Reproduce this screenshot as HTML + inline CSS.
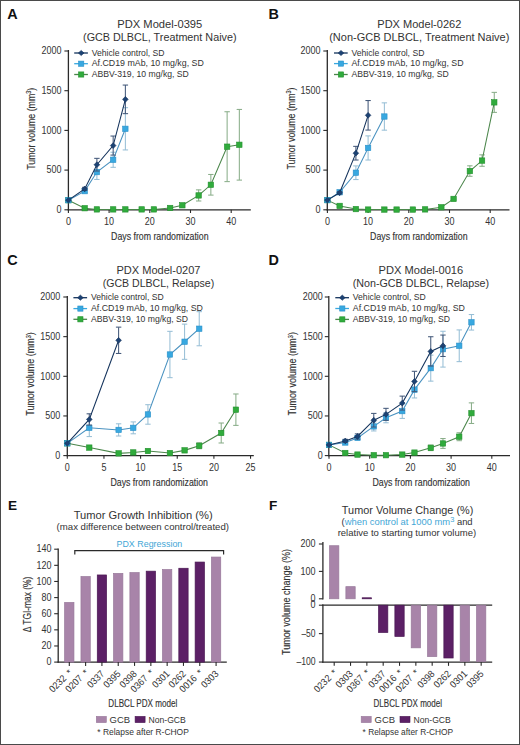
<!DOCTYPE html><html><head><meta charset="utf-8"><title>figure</title><style>html,body{margin:0;padding:0;background:#fff;overflow:hidden;}svg{display:block;}</style></head><body>
<svg width="520" height="745" viewBox="0 0 520 745" font-family='"Liberation Sans", sans-serif'>
<rect x="0" y="0" width="520" height="745" fill="#fff"/>
<line x1="68.40" y1="50.00" x2="68.40" y2="210.40" stroke="#2a2a2a" stroke-width="1.3"/>
<line x1="67.80" y1="209.80" x2="250.80" y2="209.80" stroke="#2a2a2a" stroke-width="1.3"/>
<line x1="64.40" y1="209.80" x2="68.40" y2="209.80" stroke="#2a2a2a" stroke-width="1.1"/>
<text x="61.40" y="213.00" font-size="10.0" text-anchor="end" fill="#333" textLength="5.00" lengthAdjust="spacingAndGlyphs">0</text>
<line x1="64.40" y1="170.10" x2="68.40" y2="170.10" stroke="#2a2a2a" stroke-width="1.1"/>
<text x="61.40" y="173.30" font-size="10.0" text-anchor="end" fill="#333" textLength="15.00" lengthAdjust="spacingAndGlyphs">500</text>
<line x1="64.40" y1="130.40" x2="68.40" y2="130.40" stroke="#2a2a2a" stroke-width="1.1"/>
<text x="61.40" y="133.60" font-size="10.0" text-anchor="end" fill="#333" textLength="20.00" lengthAdjust="spacingAndGlyphs">1000</text>
<line x1="64.40" y1="90.70" x2="68.40" y2="90.70" stroke="#2a2a2a" stroke-width="1.1"/>
<text x="61.40" y="93.90" font-size="10.0" text-anchor="end" fill="#333" textLength="20.00" lengthAdjust="spacingAndGlyphs">1500</text>
<line x1="64.40" y1="51.00" x2="68.40" y2="51.00" stroke="#2a2a2a" stroke-width="1.1"/>
<text x="61.40" y="54.20" font-size="10.0" text-anchor="end" fill="#333" textLength="20.00" lengthAdjust="spacingAndGlyphs">2000</text>
<line x1="68.40" y1="209.80" x2="68.40" y2="213.00" stroke="#2a2a2a" stroke-width="1.1"/>
<text x="68.40" y="224.70" font-size="10.0" text-anchor="middle" fill="#333" textLength="5.00" lengthAdjust="spacingAndGlyphs">0</text>
<line x1="109.10" y1="209.80" x2="109.10" y2="213.00" stroke="#2a2a2a" stroke-width="1.1"/>
<text x="109.10" y="224.70" font-size="10.0" text-anchor="middle" fill="#333" textLength="10.00" lengthAdjust="spacingAndGlyphs">10</text>
<line x1="149.80" y1="209.80" x2="149.80" y2="213.00" stroke="#2a2a2a" stroke-width="1.1"/>
<text x="149.80" y="224.70" font-size="10.0" text-anchor="middle" fill="#333" textLength="10.00" lengthAdjust="spacingAndGlyphs">20</text>
<line x1="190.50" y1="209.80" x2="190.50" y2="213.00" stroke="#2a2a2a" stroke-width="1.1"/>
<text x="190.50" y="224.70" font-size="10.0" text-anchor="middle" fill="#333" textLength="10.00" lengthAdjust="spacingAndGlyphs">30</text>
<line x1="231.20" y1="209.80" x2="231.20" y2="213.00" stroke="#2a2a2a" stroke-width="1.1"/>
<text x="231.20" y="224.70" font-size="10.0" text-anchor="middle" fill="#333" textLength="10.00" lengthAdjust="spacingAndGlyphs">40</text>
<text x="159.80" y="27.60" font-size="10.3" text-anchor="middle" fill="#333" textLength="85.00" lengthAdjust="spacingAndGlyphs">PDX Model-0395</text>
<text x="159.80" y="40.70" font-size="10.3" text-anchor="middle" fill="#333" textLength="153.50" lengthAdjust="spacingAndGlyphs">(GCB DLBCL, Treatment Naive)</text>
<text x="159.80" y="239.90" font-size="10.8" text-anchor="middle" fill="#333" textLength="97.50" lengthAdjust="spacingAndGlyphs" stroke="#333" stroke-width="0.15">Days from randomization</text>
<text transform="translate(34.80,128.70) rotate(-90)" font-size="10.4" text-anchor="middle" fill="#333" textLength="82" lengthAdjust="spacingAndGlyphs" stroke="#333" stroke-width="0.15">Tumor volume (mm<tspan font-size="6.5" dy="-3.5">3</tspan><tspan dy="3.5">)</tspan></text>
<text x="7.30" y="18.80" font-size="14.4" fill="#111" font-weight="bold">A</text>
<line x1="74.20" y1="53.00" x2="87.90" y2="53.00" stroke="#14335c" stroke-width="1.3"/>
<path d="M81.20 50.40L84.00 53.00L81.20 55.60L78.40 53.00Z" fill="#1c4273" stroke="#14335c" stroke-width="0.6"/>
<text x="91.70" y="55.60" font-size="8.4" fill="#333" textLength="72.90" lengthAdjust="spacingAndGlyphs">Vehicle control, SD</text>
<line x1="74.20" y1="63.70" x2="87.90" y2="63.70" stroke="#38a8e0" stroke-width="1.3"/>
<rect x="78.60" y="61.10" width="5.20" height="5.20" fill="#38a8e0" stroke="#2b90c8" stroke-width="0.6"/>
<text x="91.70" y="66.30" font-size="8.4" fill="#333" textLength="112.10" lengthAdjust="spacingAndGlyphs">Af.CD19 mAb, 10 mg/kg, SD</text>
<line x1="74.20" y1="74.50" x2="87.90" y2="74.50" stroke="#4b864b" stroke-width="1.3"/>
<rect x="78.60" y="71.90" width="5.20" height="5.20" fill="#30ab3c" stroke="#23902e" stroke-width="0.6"/>
<text x="91.70" y="77.10" font-size="8.4" fill="#333" textLength="97.20" lengthAdjust="spacingAndGlyphs">ABBV-319, 10 mg/kg, SD</text>
<line x1="170.15" y1="207.58" x2="170.15" y2="208.37" stroke="#8aae8a" stroke-width="1.05"/>
<line x1="167.45" y1="207.58" x2="172.85" y2="207.58" stroke="#8aae8a" stroke-width="1.05"/>
<line x1="167.45" y1="208.37" x2="172.85" y2="208.37" stroke="#8aae8a" stroke-width="1.05"/>
<line x1="182.36" y1="204.48" x2="182.36" y2="206.07" stroke="#8aae8a" stroke-width="1.05"/>
<line x1="179.66" y1="204.48" x2="185.06" y2="204.48" stroke="#8aae8a" stroke-width="1.05"/>
<line x1="179.66" y1="206.07" x2="185.06" y2="206.07" stroke="#8aae8a" stroke-width="1.05"/>
<line x1="198.64" y1="189.87" x2="198.64" y2="200.99" stroke="#8aae8a" stroke-width="1.05"/>
<line x1="195.94" y1="189.87" x2="201.34" y2="189.87" stroke="#8aae8a" stroke-width="1.05"/>
<line x1="195.94" y1="200.99" x2="201.34" y2="200.99" stroke="#8aae8a" stroke-width="1.05"/>
<line x1="210.85" y1="174.47" x2="210.85" y2="195.11" stroke="#8aae8a" stroke-width="1.05"/>
<line x1="208.15" y1="174.47" x2="213.55" y2="174.47" stroke="#8aae8a" stroke-width="1.05"/>
<line x1="208.15" y1="195.11" x2="213.55" y2="195.11" stroke="#8aae8a" stroke-width="1.05"/>
<line x1="227.13" y1="111.74" x2="227.13" y2="181.61" stroke="#8aae8a" stroke-width="1.05"/>
<line x1="224.43" y1="111.74" x2="229.83" y2="111.74" stroke="#8aae8a" stroke-width="1.05"/>
<line x1="224.43" y1="181.61" x2="229.83" y2="181.61" stroke="#8aae8a" stroke-width="1.05"/>
<line x1="239.34" y1="109.44" x2="239.34" y2="180.10" stroke="#8aae8a" stroke-width="1.05"/>
<line x1="236.64" y1="109.44" x2="242.04" y2="109.44" stroke="#8aae8a" stroke-width="1.05"/>
<line x1="236.64" y1="180.10" x2="242.04" y2="180.10" stroke="#8aae8a" stroke-width="1.05"/>
<polyline points="68.40,200.19 84.68,208.21 96.89,209.40 113.17,209.40 125.38,209.40 141.66,209.40 153.87,209.40 170.15,207.97 182.36,205.27 198.64,195.43 210.85,184.79 227.13,146.68 239.34,144.77" fill="none" stroke="#4b864b" stroke-width="1.05"/>
<rect x="65.70" y="197.49" width="5.40" height="5.40" fill="#30ab3c" stroke="#23902e" stroke-width="0.6"/>
<rect x="81.98" y="205.51" width="5.40" height="5.40" fill="#30ab3c" stroke="#23902e" stroke-width="0.6"/>
<rect x="94.19" y="206.70" width="5.40" height="5.40" fill="#30ab3c" stroke="#23902e" stroke-width="0.6"/>
<rect x="110.47" y="206.70" width="5.40" height="5.40" fill="#30ab3c" stroke="#23902e" stroke-width="0.6"/>
<rect x="122.68" y="206.70" width="5.40" height="5.40" fill="#30ab3c" stroke="#23902e" stroke-width="0.6"/>
<rect x="138.96" y="206.70" width="5.40" height="5.40" fill="#30ab3c" stroke="#23902e" stroke-width="0.6"/>
<rect x="151.17" y="206.70" width="5.40" height="5.40" fill="#30ab3c" stroke="#23902e" stroke-width="0.6"/>
<rect x="167.45" y="205.27" width="5.40" height="5.40" fill="#30ab3c" stroke="#23902e" stroke-width="0.6"/>
<rect x="179.66" y="202.57" width="5.40" height="5.40" fill="#30ab3c" stroke="#23902e" stroke-width="0.6"/>
<rect x="195.94" y="192.73" width="5.40" height="5.40" fill="#30ab3c" stroke="#23902e" stroke-width="0.6"/>
<rect x="208.15" y="182.09" width="5.40" height="5.40" fill="#30ab3c" stroke="#23902e" stroke-width="0.6"/>
<rect x="224.43" y="143.98" width="5.40" height="5.40" fill="#30ab3c" stroke="#23902e" stroke-width="0.6"/>
<rect x="236.64" y="142.07" width="5.40" height="5.40" fill="#30ab3c" stroke="#23902e" stroke-width="0.6"/>
<line x1="84.68" y1="189.55" x2="84.68" y2="192.73" stroke="#98bfd6" stroke-width="1.05"/>
<line x1="81.98" y1="189.55" x2="87.38" y2="189.55" stroke="#98bfd6" stroke-width="1.05"/>
<line x1="81.98" y1="192.73" x2="87.38" y2="192.73" stroke="#98bfd6" stroke-width="1.05"/>
<line x1="96.89" y1="164.70" x2="96.89" y2="179.47" stroke="#98bfd6" stroke-width="1.05"/>
<line x1="94.19" y1="164.70" x2="99.59" y2="164.70" stroke="#98bfd6" stroke-width="1.05"/>
<line x1="94.19" y1="179.47" x2="99.59" y2="179.47" stroke="#98bfd6" stroke-width="1.05"/>
<line x1="113.17" y1="152.24" x2="113.17" y2="167.32" stroke="#98bfd6" stroke-width="1.05"/>
<line x1="110.47" y1="152.24" x2="115.87" y2="152.24" stroke="#98bfd6" stroke-width="1.05"/>
<line x1="110.47" y1="167.32" x2="115.87" y2="167.32" stroke="#98bfd6" stroke-width="1.05"/>
<line x1="125.38" y1="107.69" x2="125.38" y2="149.93" stroke="#98bfd6" stroke-width="1.05"/>
<line x1="122.68" y1="107.69" x2="128.08" y2="107.69" stroke="#98bfd6" stroke-width="1.05"/>
<line x1="122.68" y1="149.93" x2="128.08" y2="149.93" stroke="#98bfd6" stroke-width="1.05"/>
<polyline points="68.40,200.19 84.68,191.14 96.89,172.09 113.17,159.78 125.38,128.81" fill="none" stroke="#4a92c0" stroke-width="1.05"/>
<rect x="65.70" y="197.49" width="5.40" height="5.40" fill="#38a8e0" stroke="#2b90c8" stroke-width="0.6"/>
<rect x="81.98" y="188.44" width="5.40" height="5.40" fill="#38a8e0" stroke="#2b90c8" stroke-width="0.6"/>
<rect x="94.19" y="169.39" width="5.40" height="5.40" fill="#38a8e0" stroke="#2b90c8" stroke-width="0.6"/>
<rect x="110.47" y="157.08" width="5.40" height="5.40" fill="#38a8e0" stroke="#2b90c8" stroke-width="0.6"/>
<rect x="122.68" y="126.11" width="5.40" height="5.40" fill="#38a8e0" stroke="#2b90c8" stroke-width="0.6"/>
<line x1="84.68" y1="187.33" x2="84.68" y2="190.51" stroke="#44597a" stroke-width="1.05"/>
<line x1="81.98" y1="187.33" x2="87.38" y2="187.33" stroke="#44597a" stroke-width="1.05"/>
<line x1="81.98" y1="190.51" x2="87.38" y2="190.51" stroke="#44597a" stroke-width="1.05"/>
<line x1="96.89" y1="158.35" x2="96.89" y2="171.05" stroke="#44597a" stroke-width="1.05"/>
<line x1="94.19" y1="158.35" x2="99.59" y2="158.35" stroke="#44597a" stroke-width="1.05"/>
<line x1="94.19" y1="171.05" x2="99.59" y2="171.05" stroke="#44597a" stroke-width="1.05"/>
<line x1="113.17" y1="136.04" x2="113.17" y2="155.09" stroke="#44597a" stroke-width="1.05"/>
<line x1="110.47" y1="136.04" x2="115.87" y2="136.04" stroke="#44597a" stroke-width="1.05"/>
<line x1="110.47" y1="155.09" x2="115.87" y2="155.09" stroke="#44597a" stroke-width="1.05"/>
<line x1="125.38" y1="85.06" x2="125.38" y2="113.65" stroke="#44597a" stroke-width="1.05"/>
<line x1="122.68" y1="85.06" x2="128.08" y2="85.06" stroke="#44597a" stroke-width="1.05"/>
<line x1="122.68" y1="113.65" x2="128.08" y2="113.65" stroke="#44597a" stroke-width="1.05"/>
<polyline points="68.40,200.19 84.68,188.92 96.89,164.70 113.17,145.57 125.38,99.35" fill="none" stroke="#14335c" stroke-width="1.05"/>
<path d="M68.40 197.29L71.20 200.19L68.40 203.09L65.60 200.19Z" fill="#1c4273" stroke="#14335c" stroke-width="0.6"/>
<path d="M84.68 186.02L87.48 188.92L84.68 191.82L81.88 188.92Z" fill="#1c4273" stroke="#14335c" stroke-width="0.6"/>
<path d="M96.89 161.80L99.69 164.70L96.89 167.60L94.09 164.70Z" fill="#1c4273" stroke="#14335c" stroke-width="0.6"/>
<path d="M113.17 142.67L115.97 145.57L113.17 148.47L110.37 145.57Z" fill="#1c4273" stroke="#14335c" stroke-width="0.6"/>
<path d="M125.38 96.45L128.18 99.35L125.38 102.25L122.58 99.35Z" fill="#1c4273" stroke="#14335c" stroke-width="0.6"/>
<line x1="327.30" y1="50.00" x2="327.30" y2="210.40" stroke="#2a2a2a" stroke-width="1.3"/>
<line x1="326.70" y1="209.80" x2="509.50" y2="209.80" stroke="#2a2a2a" stroke-width="1.3"/>
<line x1="323.30" y1="209.80" x2="327.30" y2="209.80" stroke="#2a2a2a" stroke-width="1.1"/>
<text x="320.40" y="213.00" font-size="10.0" text-anchor="end" fill="#333" textLength="5.00" lengthAdjust="spacingAndGlyphs">0</text>
<line x1="323.30" y1="170.10" x2="327.30" y2="170.10" stroke="#2a2a2a" stroke-width="1.1"/>
<text x="320.40" y="173.30" font-size="10.0" text-anchor="end" fill="#333" textLength="15.00" lengthAdjust="spacingAndGlyphs">500</text>
<line x1="323.30" y1="130.40" x2="327.30" y2="130.40" stroke="#2a2a2a" stroke-width="1.1"/>
<text x="320.40" y="133.60" font-size="10.0" text-anchor="end" fill="#333" textLength="20.00" lengthAdjust="spacingAndGlyphs">1000</text>
<line x1="323.30" y1="90.70" x2="327.30" y2="90.70" stroke="#2a2a2a" stroke-width="1.1"/>
<text x="320.40" y="93.90" font-size="10.0" text-anchor="end" fill="#333" textLength="20.00" lengthAdjust="spacingAndGlyphs">1500</text>
<line x1="323.30" y1="51.00" x2="327.30" y2="51.00" stroke="#2a2a2a" stroke-width="1.1"/>
<text x="320.40" y="54.20" font-size="10.0" text-anchor="end" fill="#333" textLength="20.00" lengthAdjust="spacingAndGlyphs">2000</text>
<line x1="327.40" y1="209.80" x2="327.40" y2="213.00" stroke="#2a2a2a" stroke-width="1.1"/>
<text x="327.40" y="224.70" font-size="10.0" text-anchor="middle" fill="#333" textLength="5.00" lengthAdjust="spacingAndGlyphs">0</text>
<line x1="368.10" y1="209.80" x2="368.10" y2="213.00" stroke="#2a2a2a" stroke-width="1.1"/>
<text x="368.10" y="224.70" font-size="10.0" text-anchor="middle" fill="#333" textLength="10.00" lengthAdjust="spacingAndGlyphs">10</text>
<line x1="408.80" y1="209.80" x2="408.80" y2="213.00" stroke="#2a2a2a" stroke-width="1.1"/>
<text x="408.80" y="224.70" font-size="10.0" text-anchor="middle" fill="#333" textLength="10.00" lengthAdjust="spacingAndGlyphs">20</text>
<line x1="449.50" y1="209.80" x2="449.50" y2="213.00" stroke="#2a2a2a" stroke-width="1.1"/>
<text x="449.50" y="224.70" font-size="10.0" text-anchor="middle" fill="#333" textLength="10.00" lengthAdjust="spacingAndGlyphs">30</text>
<line x1="490.20" y1="209.80" x2="490.20" y2="213.00" stroke="#2a2a2a" stroke-width="1.1"/>
<text x="490.20" y="224.70" font-size="10.0" text-anchor="middle" fill="#333" textLength="10.00" lengthAdjust="spacingAndGlyphs">40</text>
<text x="419.30" y="27.60" font-size="10.3" text-anchor="middle" fill="#333" textLength="84.00" lengthAdjust="spacingAndGlyphs">PDX Model-0262</text>
<text x="419.30" y="40.70" font-size="10.3" text-anchor="middle" fill="#333" textLength="180.20" lengthAdjust="spacingAndGlyphs">(Non-GCB DLBCL, Treatment Naive)</text>
<text x="418.80" y="239.90" font-size="10.8" text-anchor="middle" fill="#333" textLength="97.50" lengthAdjust="spacingAndGlyphs" stroke="#333" stroke-width="0.15">Days from randomization</text>
<text transform="translate(294.60,128.50) rotate(-90)" font-size="10.4" text-anchor="middle" fill="#333" textLength="82" lengthAdjust="spacingAndGlyphs" stroke="#333" stroke-width="0.15">Tumor volume (mm<tspan font-size="6.5" dy="-3.5">3</tspan><tspan dy="3.5">)</tspan></text>
<text x="268.50" y="18.80" font-size="14.4" fill="#111" font-weight="bold">B</text>
<line x1="334.00" y1="53.00" x2="347.70" y2="53.00" stroke="#14335c" stroke-width="1.3"/>
<path d="M341.00 50.40L343.80 53.00L341.00 55.60L338.20 53.00Z" fill="#1c4273" stroke="#14335c" stroke-width="0.6"/>
<text x="351.50" y="55.60" font-size="8.4" fill="#333" textLength="72.90" lengthAdjust="spacingAndGlyphs">Vehicle control, SD</text>
<line x1="334.00" y1="63.60" x2="347.70" y2="63.60" stroke="#38a8e0" stroke-width="1.3"/>
<rect x="338.40" y="61.00" width="5.20" height="5.20" fill="#38a8e0" stroke="#2b90c8" stroke-width="0.6"/>
<text x="351.50" y="66.20" font-size="8.4" fill="#333" textLength="112.10" lengthAdjust="spacingAndGlyphs">Af.CD19 mAb, 10 mg/kg, SD</text>
<line x1="334.00" y1="74.50" x2="347.70" y2="74.50" stroke="#4b864b" stroke-width="1.3"/>
<rect x="338.40" y="71.90" width="5.20" height="5.20" fill="#30ab3c" stroke="#23902e" stroke-width="0.6"/>
<text x="351.50" y="77.10" font-size="8.4" fill="#333" textLength="97.20" lengthAdjust="spacingAndGlyphs">ABBV-319, 10 mg/kg, SD</text>
<line x1="441.36" y1="206.86" x2="441.36" y2="207.66" stroke="#8aae8a" stroke-width="1.05"/>
<line x1="438.66" y1="206.86" x2="444.06" y2="206.86" stroke="#8aae8a" stroke-width="1.05"/>
<line x1="438.66" y1="207.66" x2="444.06" y2="207.66" stroke="#8aae8a" stroke-width="1.05"/>
<line x1="453.57" y1="198.13" x2="453.57" y2="199.72" stroke="#8aae8a" stroke-width="1.05"/>
<line x1="450.87" y1="198.13" x2="456.27" y2="198.13" stroke="#8aae8a" stroke-width="1.05"/>
<line x1="450.87" y1="199.72" x2="456.27" y2="199.72" stroke="#8aae8a" stroke-width="1.05"/>
<line x1="469.85" y1="165.81" x2="469.85" y2="176.29" stroke="#8aae8a" stroke-width="1.05"/>
<line x1="467.15" y1="165.81" x2="472.55" y2="165.81" stroke="#8aae8a" stroke-width="1.05"/>
<line x1="467.15" y1="176.29" x2="472.55" y2="176.29" stroke="#8aae8a" stroke-width="1.05"/>
<line x1="482.06" y1="154.86" x2="482.06" y2="166.29" stroke="#8aae8a" stroke-width="1.05"/>
<line x1="479.36" y1="154.86" x2="484.76" y2="154.86" stroke="#8aae8a" stroke-width="1.05"/>
<line x1="479.36" y1="166.29" x2="484.76" y2="166.29" stroke="#8aae8a" stroke-width="1.05"/>
<line x1="494.27" y1="92.37" x2="494.27" y2="112.38" stroke="#8aae8a" stroke-width="1.05"/>
<line x1="491.57" y1="92.37" x2="496.97" y2="92.37" stroke="#8aae8a" stroke-width="1.05"/>
<line x1="491.57" y1="112.38" x2="496.97" y2="112.38" stroke="#8aae8a" stroke-width="1.05"/>
<polyline points="327.40,200.11 339.61,205.91 355.89,209.09 368.10,209.56 384.38,209.56 396.59,209.56 412.87,209.56 425.08,209.40 441.36,207.26 453.57,198.92 469.85,171.05 482.06,160.57 494.27,102.37" fill="none" stroke="#4b864b" stroke-width="1.05"/>
<rect x="324.70" y="197.41" width="5.40" height="5.40" fill="#30ab3c" stroke="#23902e" stroke-width="0.6"/>
<rect x="336.91" y="203.21" width="5.40" height="5.40" fill="#30ab3c" stroke="#23902e" stroke-width="0.6"/>
<rect x="353.19" y="206.39" width="5.40" height="5.40" fill="#30ab3c" stroke="#23902e" stroke-width="0.6"/>
<rect x="365.40" y="206.86" width="5.40" height="5.40" fill="#30ab3c" stroke="#23902e" stroke-width="0.6"/>
<rect x="381.68" y="206.86" width="5.40" height="5.40" fill="#30ab3c" stroke="#23902e" stroke-width="0.6"/>
<rect x="393.89" y="206.86" width="5.40" height="5.40" fill="#30ab3c" stroke="#23902e" stroke-width="0.6"/>
<rect x="410.17" y="206.86" width="5.40" height="5.40" fill="#30ab3c" stroke="#23902e" stroke-width="0.6"/>
<rect x="422.38" y="206.70" width="5.40" height="5.40" fill="#30ab3c" stroke="#23902e" stroke-width="0.6"/>
<rect x="438.66" y="204.56" width="5.40" height="5.40" fill="#30ab3c" stroke="#23902e" stroke-width="0.6"/>
<rect x="450.87" y="196.22" width="5.40" height="5.40" fill="#30ab3c" stroke="#23902e" stroke-width="0.6"/>
<rect x="467.15" y="168.35" width="5.40" height="5.40" fill="#30ab3c" stroke="#23902e" stroke-width="0.6"/>
<rect x="479.36" y="157.87" width="5.40" height="5.40" fill="#30ab3c" stroke="#23902e" stroke-width="0.6"/>
<rect x="491.57" y="99.67" width="5.40" height="5.40" fill="#30ab3c" stroke="#23902e" stroke-width="0.6"/>
<line x1="339.61" y1="191.06" x2="339.61" y2="193.44" stroke="#98bfd6" stroke-width="1.05"/>
<line x1="336.91" y1="191.06" x2="342.31" y2="191.06" stroke="#98bfd6" stroke-width="1.05"/>
<line x1="336.91" y1="193.44" x2="342.31" y2="193.44" stroke="#98bfd6" stroke-width="1.05"/>
<line x1="355.89" y1="165.89" x2="355.89" y2="179.55" stroke="#98bfd6" stroke-width="1.05"/>
<line x1="353.19" y1="165.89" x2="358.59" y2="165.89" stroke="#98bfd6" stroke-width="1.05"/>
<line x1="353.19" y1="179.55" x2="358.59" y2="179.55" stroke="#98bfd6" stroke-width="1.05"/>
<line x1="368.10" y1="135.88" x2="368.10" y2="160.02" stroke="#98bfd6" stroke-width="1.05"/>
<line x1="365.40" y1="135.88" x2="370.80" y2="135.88" stroke="#98bfd6" stroke-width="1.05"/>
<line x1="365.40" y1="160.02" x2="370.80" y2="160.02" stroke="#98bfd6" stroke-width="1.05"/>
<line x1="384.38" y1="102.85" x2="384.38" y2="130.16" stroke="#98bfd6" stroke-width="1.05"/>
<line x1="381.68" y1="102.85" x2="387.08" y2="102.85" stroke="#98bfd6" stroke-width="1.05"/>
<line x1="381.68" y1="130.16" x2="387.08" y2="130.16" stroke="#98bfd6" stroke-width="1.05"/>
<polyline points="327.40,200.11 339.61,192.25 355.89,172.72 368.10,147.95 384.38,116.51" fill="none" stroke="#4a92c0" stroke-width="1.05"/>
<rect x="324.70" y="197.41" width="5.40" height="5.40" fill="#38a8e0" stroke="#2b90c8" stroke-width="0.6"/>
<rect x="336.91" y="189.55" width="5.40" height="5.40" fill="#38a8e0" stroke="#2b90c8" stroke-width="0.6"/>
<rect x="353.19" y="170.02" width="5.40" height="5.40" fill="#38a8e0" stroke="#2b90c8" stroke-width="0.6"/>
<rect x="365.40" y="145.25" width="5.40" height="5.40" fill="#38a8e0" stroke="#2b90c8" stroke-width="0.6"/>
<rect x="381.68" y="113.81" width="5.40" height="5.40" fill="#38a8e0" stroke="#2b90c8" stroke-width="0.6"/>
<line x1="339.61" y1="191.62" x2="339.61" y2="194.00" stroke="#44597a" stroke-width="1.05"/>
<line x1="336.91" y1="191.62" x2="342.31" y2="191.62" stroke="#44597a" stroke-width="1.05"/>
<line x1="336.91" y1="194.00" x2="342.31" y2="194.00" stroke="#44597a" stroke-width="1.05"/>
<line x1="355.89" y1="146.36" x2="355.89" y2="160.02" stroke="#44597a" stroke-width="1.05"/>
<line x1="353.19" y1="146.36" x2="358.59" y2="146.36" stroke="#44597a" stroke-width="1.05"/>
<line x1="353.19" y1="160.02" x2="358.59" y2="160.02" stroke="#44597a" stroke-width="1.05"/>
<line x1="368.10" y1="100.55" x2="368.10" y2="130.08" stroke="#44597a" stroke-width="1.05"/>
<line x1="365.40" y1="100.55" x2="370.80" y2="100.55" stroke="#44597a" stroke-width="1.05"/>
<line x1="365.40" y1="130.08" x2="370.80" y2="130.08" stroke="#44597a" stroke-width="1.05"/>
<polyline points="327.40,200.11 339.61,192.81 355.89,153.19 368.10,115.31" fill="none" stroke="#14335c" stroke-width="1.05"/>
<path d="M327.40 197.21L330.20 200.11L327.40 203.01L324.60 200.11Z" fill="#1c4273" stroke="#14335c" stroke-width="0.6"/>
<path d="M339.61 189.91L342.41 192.81L339.61 195.71L336.81 192.81Z" fill="#1c4273" stroke="#14335c" stroke-width="0.6"/>
<path d="M355.89 150.29L358.69 153.19L355.89 156.09L353.09 153.19Z" fill="#1c4273" stroke="#14335c" stroke-width="0.6"/>
<path d="M368.10 112.41L370.90 115.31L368.10 118.21L365.30 115.31Z" fill="#1c4273" stroke="#14335c" stroke-width="0.6"/>
<line x1="67.30" y1="296.00" x2="67.30" y2="456.20" stroke="#2a2a2a" stroke-width="1.3"/>
<line x1="66.70" y1="455.60" x2="253.80" y2="455.60" stroke="#2a2a2a" stroke-width="1.3"/>
<line x1="63.30" y1="455.60" x2="67.30" y2="455.60" stroke="#2a2a2a" stroke-width="1.1"/>
<text x="60.20" y="458.80" font-size="10.0" text-anchor="end" fill="#333" textLength="5.00" lengthAdjust="spacingAndGlyphs">0</text>
<line x1="63.30" y1="415.95" x2="67.30" y2="415.95" stroke="#2a2a2a" stroke-width="1.1"/>
<text x="60.20" y="419.15" font-size="10.0" text-anchor="end" fill="#333" textLength="15.00" lengthAdjust="spacingAndGlyphs">500</text>
<line x1="63.30" y1="376.30" x2="67.30" y2="376.30" stroke="#2a2a2a" stroke-width="1.1"/>
<text x="60.20" y="379.50" font-size="10.0" text-anchor="end" fill="#333" textLength="20.00" lengthAdjust="spacingAndGlyphs">1000</text>
<line x1="63.30" y1="336.65" x2="67.30" y2="336.65" stroke="#2a2a2a" stroke-width="1.1"/>
<text x="60.20" y="339.85" font-size="10.0" text-anchor="end" fill="#333" textLength="20.00" lengthAdjust="spacingAndGlyphs">1500</text>
<line x1="63.30" y1="297.00" x2="67.30" y2="297.00" stroke="#2a2a2a" stroke-width="1.1"/>
<text x="60.20" y="300.20" font-size="10.0" text-anchor="end" fill="#333" textLength="20.00" lengthAdjust="spacingAndGlyphs">2000</text>
<line x1="67.30" y1="455.60" x2="67.30" y2="458.80" stroke="#2a2a2a" stroke-width="1.1"/>
<text x="67.30" y="470.50" font-size="10.0" text-anchor="middle" fill="#333" textLength="5.00" lengthAdjust="spacingAndGlyphs">0</text>
<line x1="103.95" y1="455.60" x2="103.95" y2="458.80" stroke="#2a2a2a" stroke-width="1.1"/>
<text x="103.95" y="470.50" font-size="10.0" text-anchor="middle" fill="#333" textLength="5.00" lengthAdjust="spacingAndGlyphs">5</text>
<line x1="140.60" y1="455.60" x2="140.60" y2="458.80" stroke="#2a2a2a" stroke-width="1.1"/>
<text x="140.60" y="470.50" font-size="10.0" text-anchor="middle" fill="#333" textLength="10.00" lengthAdjust="spacingAndGlyphs">10</text>
<line x1="177.25" y1="455.60" x2="177.25" y2="458.80" stroke="#2a2a2a" stroke-width="1.1"/>
<text x="177.25" y="470.50" font-size="10.0" text-anchor="middle" fill="#333" textLength="10.00" lengthAdjust="spacingAndGlyphs">15</text>
<line x1="213.90" y1="455.60" x2="213.90" y2="458.80" stroke="#2a2a2a" stroke-width="1.1"/>
<text x="213.90" y="470.50" font-size="10.0" text-anchor="middle" fill="#333" textLength="10.00" lengthAdjust="spacingAndGlyphs">20</text>
<line x1="250.55" y1="455.60" x2="250.55" y2="458.80" stroke="#2a2a2a" stroke-width="1.1"/>
<text x="250.55" y="470.50" font-size="10.0" text-anchor="middle" fill="#333" textLength="10.00" lengthAdjust="spacingAndGlyphs">25</text>
<text x="158.50" y="273.80" font-size="10.3" text-anchor="middle" fill="#333" textLength="84.00" lengthAdjust="spacingAndGlyphs">PDX Model-0207</text>
<text x="158.50" y="286.70" font-size="10.3" text-anchor="middle" fill="#333" textLength="111.50" lengthAdjust="spacingAndGlyphs">(GCB DLBCL, Relapse)</text>
<text x="159.20" y="485.60" font-size="10.8" text-anchor="middle" fill="#333" textLength="97.50" lengthAdjust="spacingAndGlyphs" stroke="#333" stroke-width="0.15">Days from randomization</text>
<text transform="translate(34.30,374.00) rotate(-90)" font-size="10.4" text-anchor="middle" fill="#333" textLength="83.5" lengthAdjust="spacingAndGlyphs" stroke="#333" stroke-width="0.15">Tumor volume (mm<tspan font-size="6.5" dy="-3.5">3</tspan><tspan dy="3.5">)</tspan></text>
<text x="7.30" y="265.00" font-size="14.4" fill="#111" font-weight="bold">C</text>
<line x1="73.40" y1="297.70" x2="87.10" y2="297.70" stroke="#14335c" stroke-width="1.3"/>
<path d="M80.40 295.10L83.20 297.70L80.40 300.30L77.60 297.70Z" fill="#1c4273" stroke="#14335c" stroke-width="0.6"/>
<text x="90.90" y="300.30" font-size="8.4" fill="#333" textLength="72.90" lengthAdjust="spacingAndGlyphs">Vehicle control, SD</text>
<line x1="73.40" y1="308.60" x2="87.10" y2="308.60" stroke="#38a8e0" stroke-width="1.3"/>
<rect x="77.80" y="306.00" width="5.20" height="5.20" fill="#38a8e0" stroke="#2b90c8" stroke-width="0.6"/>
<text x="90.90" y="311.20" font-size="8.4" fill="#333" textLength="112.10" lengthAdjust="spacingAndGlyphs">Af.CD19 mAb, 10 mg/kg, SD</text>
<line x1="73.40" y1="319.30" x2="87.10" y2="319.30" stroke="#4b864b" stroke-width="1.3"/>
<rect x="77.80" y="316.70" width="5.20" height="5.20" fill="#30ab3c" stroke="#23902e" stroke-width="0.6"/>
<text x="90.90" y="321.90" font-size="8.4" fill="#333" textLength="97.20" lengthAdjust="spacingAndGlyphs">ABBV-319, 10 mg/kg, SD</text>
<line x1="199.24" y1="442.83" x2="199.24" y2="448.70" stroke="#8aae8a" stroke-width="1.05"/>
<line x1="196.54" y1="442.83" x2="201.94" y2="442.83" stroke="#8aae8a" stroke-width="1.05"/>
<line x1="196.54" y1="448.70" x2="201.94" y2="448.70" stroke="#8aae8a" stroke-width="1.05"/>
<line x1="221.23" y1="423.01" x2="221.23" y2="442.99" stroke="#8aae8a" stroke-width="1.05"/>
<line x1="218.53" y1="423.01" x2="223.93" y2="423.01" stroke="#8aae8a" stroke-width="1.05"/>
<line x1="218.53" y1="442.99" x2="223.93" y2="442.99" stroke="#8aae8a" stroke-width="1.05"/>
<line x1="235.89" y1="393.98" x2="235.89" y2="425.39" stroke="#8aae8a" stroke-width="1.05"/>
<line x1="233.19" y1="393.98" x2="238.59" y2="393.98" stroke="#8aae8a" stroke-width="1.05"/>
<line x1="233.19" y1="425.39" x2="238.59" y2="425.39" stroke="#8aae8a" stroke-width="1.05"/>
<polyline points="67.30,443.31 89.29,447.59 118.61,453.38 133.27,452.43 147.93,451.00 169.92,453.06 184.58,450.37 199.24,445.77 221.23,433.00 235.89,409.69" fill="none" stroke="#4b864b" stroke-width="1.05"/>
<rect x="64.60" y="440.61" width="5.40" height="5.40" fill="#30ab3c" stroke="#23902e" stroke-width="0.6"/>
<rect x="86.59" y="444.89" width="5.40" height="5.40" fill="#30ab3c" stroke="#23902e" stroke-width="0.6"/>
<rect x="115.91" y="450.68" width="5.40" height="5.40" fill="#30ab3c" stroke="#23902e" stroke-width="0.6"/>
<rect x="130.57" y="449.73" width="5.40" height="5.40" fill="#30ab3c" stroke="#23902e" stroke-width="0.6"/>
<rect x="145.23" y="448.30" width="5.40" height="5.40" fill="#30ab3c" stroke="#23902e" stroke-width="0.6"/>
<rect x="167.22" y="450.36" width="5.40" height="5.40" fill="#30ab3c" stroke="#23902e" stroke-width="0.6"/>
<rect x="181.88" y="447.67" width="5.40" height="5.40" fill="#30ab3c" stroke="#23902e" stroke-width="0.6"/>
<rect x="196.54" y="443.07" width="5.40" height="5.40" fill="#30ab3c" stroke="#23902e" stroke-width="0.6"/>
<rect x="218.53" y="430.30" width="5.40" height="5.40" fill="#30ab3c" stroke="#23902e" stroke-width="0.6"/>
<rect x="233.19" y="406.99" width="5.40" height="5.40" fill="#30ab3c" stroke="#23902e" stroke-width="0.6"/>
<line x1="89.29" y1="419.12" x2="89.29" y2="436.57" stroke="#98bfd6" stroke-width="1.05"/>
<line x1="86.59" y1="419.12" x2="91.99" y2="419.12" stroke="#98bfd6" stroke-width="1.05"/>
<line x1="86.59" y1="436.57" x2="91.99" y2="436.57" stroke="#98bfd6" stroke-width="1.05"/>
<line x1="118.61" y1="423.80" x2="118.61" y2="436.01" stroke="#98bfd6" stroke-width="1.05"/>
<line x1="115.91" y1="423.80" x2="121.31" y2="423.80" stroke="#98bfd6" stroke-width="1.05"/>
<line x1="115.91" y1="436.01" x2="121.31" y2="436.01" stroke="#98bfd6" stroke-width="1.05"/>
<line x1="133.27" y1="421.90" x2="133.27" y2="433.79" stroke="#98bfd6" stroke-width="1.05"/>
<line x1="130.57" y1="421.90" x2="135.97" y2="421.90" stroke="#98bfd6" stroke-width="1.05"/>
<line x1="130.57" y1="433.79" x2="135.97" y2="433.79" stroke="#98bfd6" stroke-width="1.05"/>
<line x1="147.93" y1="404.69" x2="147.93" y2="424.20" stroke="#98bfd6" stroke-width="1.05"/>
<line x1="145.23" y1="404.69" x2="150.63" y2="404.69" stroke="#98bfd6" stroke-width="1.05"/>
<line x1="145.23" y1="424.20" x2="150.63" y2="424.20" stroke="#98bfd6" stroke-width="1.05"/>
<line x1="169.92" y1="331.34" x2="169.92" y2="377.65" stroke="#98bfd6" stroke-width="1.05"/>
<line x1="167.22" y1="331.34" x2="172.62" y2="331.34" stroke="#98bfd6" stroke-width="1.05"/>
<line x1="167.22" y1="377.65" x2="172.62" y2="377.65" stroke="#98bfd6" stroke-width="1.05"/>
<line x1="184.58" y1="324.12" x2="184.58" y2="359.33" stroke="#98bfd6" stroke-width="1.05"/>
<line x1="181.88" y1="324.12" x2="187.28" y2="324.12" stroke="#98bfd6" stroke-width="1.05"/>
<line x1="181.88" y1="359.33" x2="187.28" y2="359.33" stroke="#98bfd6" stroke-width="1.05"/>
<line x1="199.24" y1="311.67" x2="199.24" y2="345.77" stroke="#98bfd6" stroke-width="1.05"/>
<line x1="196.54" y1="311.67" x2="201.94" y2="311.67" stroke="#98bfd6" stroke-width="1.05"/>
<line x1="196.54" y1="345.77" x2="201.94" y2="345.77" stroke="#98bfd6" stroke-width="1.05"/>
<polyline points="67.30,443.31 89.29,427.85 118.61,429.91 133.27,427.85 147.93,414.44 169.92,354.49 184.58,341.73 199.24,328.72" fill="none" stroke="#4a92c0" stroke-width="1.05"/>
<rect x="64.60" y="440.61" width="5.40" height="5.40" fill="#38a8e0" stroke="#2b90c8" stroke-width="0.6"/>
<rect x="86.59" y="425.15" width="5.40" height="5.40" fill="#38a8e0" stroke="#2b90c8" stroke-width="0.6"/>
<rect x="115.91" y="427.21" width="5.40" height="5.40" fill="#38a8e0" stroke="#2b90c8" stroke-width="0.6"/>
<rect x="130.57" y="425.15" width="5.40" height="5.40" fill="#38a8e0" stroke="#2b90c8" stroke-width="0.6"/>
<rect x="145.23" y="411.74" width="5.40" height="5.40" fill="#38a8e0" stroke="#2b90c8" stroke-width="0.6"/>
<rect x="167.22" y="351.79" width="5.40" height="5.40" fill="#38a8e0" stroke="#2b90c8" stroke-width="0.6"/>
<rect x="181.88" y="339.03" width="5.40" height="5.40" fill="#38a8e0" stroke="#2b90c8" stroke-width="0.6"/>
<rect x="196.54" y="326.02" width="5.40" height="5.40" fill="#38a8e0" stroke="#2b90c8" stroke-width="0.6"/>
<line x1="89.29" y1="413.81" x2="89.29" y2="425.07" stroke="#44597a" stroke-width="1.05"/>
<line x1="86.59" y1="413.81" x2="91.99" y2="413.81" stroke="#44597a" stroke-width="1.05"/>
<line x1="86.59" y1="425.07" x2="91.99" y2="425.07" stroke="#44597a" stroke-width="1.05"/>
<line x1="118.61" y1="327.13" x2="118.61" y2="353.46" stroke="#44597a" stroke-width="1.05"/>
<line x1="115.91" y1="327.13" x2="121.31" y2="327.13" stroke="#44597a" stroke-width="1.05"/>
<line x1="115.91" y1="353.46" x2="121.31" y2="353.46" stroke="#44597a" stroke-width="1.05"/>
<polyline points="67.30,443.31 89.29,419.44 118.61,340.30" fill="none" stroke="#14335c" stroke-width="1.05"/>
<path d="M67.30 440.41L70.10 443.31L67.30 446.21L64.50 443.31Z" fill="#1c4273" stroke="#14335c" stroke-width="0.6"/>
<path d="M89.29 416.54L92.09 419.44L89.29 422.34L86.49 419.44Z" fill="#1c4273" stroke="#14335c" stroke-width="0.6"/>
<path d="M118.61 337.40L121.41 340.30L118.61 343.20L115.81 340.30Z" fill="#1c4273" stroke="#14335c" stroke-width="0.6"/>
<line x1="328.80" y1="296.00" x2="328.80" y2="456.20" stroke="#2a2a2a" stroke-width="1.3"/>
<line x1="328.20" y1="455.60" x2="510.00" y2="455.60" stroke="#2a2a2a" stroke-width="1.3"/>
<line x1="324.80" y1="455.60" x2="328.80" y2="455.60" stroke="#2a2a2a" stroke-width="1.1"/>
<text x="322.70" y="458.80" font-size="10.0" text-anchor="end" fill="#333" textLength="5.00" lengthAdjust="spacingAndGlyphs">0</text>
<line x1="324.80" y1="415.95" x2="328.80" y2="415.95" stroke="#2a2a2a" stroke-width="1.1"/>
<text x="322.70" y="419.15" font-size="10.0" text-anchor="end" fill="#333" textLength="15.00" lengthAdjust="spacingAndGlyphs">500</text>
<line x1="324.80" y1="376.30" x2="328.80" y2="376.30" stroke="#2a2a2a" stroke-width="1.1"/>
<text x="322.70" y="379.50" font-size="10.0" text-anchor="end" fill="#333" textLength="20.00" lengthAdjust="spacingAndGlyphs">1000</text>
<line x1="324.80" y1="336.65" x2="328.80" y2="336.65" stroke="#2a2a2a" stroke-width="1.1"/>
<text x="322.70" y="339.85" font-size="10.0" text-anchor="end" fill="#333" textLength="20.00" lengthAdjust="spacingAndGlyphs">1500</text>
<line x1="324.80" y1="297.00" x2="328.80" y2="297.00" stroke="#2a2a2a" stroke-width="1.1"/>
<text x="322.70" y="300.20" font-size="10.0" text-anchor="end" fill="#333" textLength="20.00" lengthAdjust="spacingAndGlyphs">2000</text>
<line x1="329.00" y1="455.60" x2="329.00" y2="458.80" stroke="#2a2a2a" stroke-width="1.1"/>
<text x="329.00" y="470.50" font-size="10.0" text-anchor="middle" fill="#333" textLength="5.00" lengthAdjust="spacingAndGlyphs">0</text>
<line x1="369.70" y1="455.60" x2="369.70" y2="458.80" stroke="#2a2a2a" stroke-width="1.1"/>
<text x="369.70" y="470.50" font-size="10.0" text-anchor="middle" fill="#333" textLength="10.00" lengthAdjust="spacingAndGlyphs">10</text>
<line x1="410.40" y1="455.60" x2="410.40" y2="458.80" stroke="#2a2a2a" stroke-width="1.1"/>
<text x="410.40" y="470.50" font-size="10.0" text-anchor="middle" fill="#333" textLength="10.00" lengthAdjust="spacingAndGlyphs">20</text>
<line x1="451.10" y1="455.60" x2="451.10" y2="458.80" stroke="#2a2a2a" stroke-width="1.1"/>
<text x="451.10" y="470.50" font-size="10.0" text-anchor="middle" fill="#333" textLength="10.00" lengthAdjust="spacingAndGlyphs">30</text>
<line x1="491.80" y1="455.60" x2="491.80" y2="458.80" stroke="#2a2a2a" stroke-width="1.1"/>
<text x="491.80" y="470.50" font-size="10.0" text-anchor="middle" fill="#333" textLength="10.00" lengthAdjust="spacingAndGlyphs">40</text>
<text x="420.90" y="273.80" font-size="10.3" text-anchor="middle" fill="#333" textLength="84.60" lengthAdjust="spacingAndGlyphs">PDX Model-0016</text>
<text x="420.90" y="286.70" font-size="10.3" text-anchor="middle" fill="#333" textLength="136.30" lengthAdjust="spacingAndGlyphs">(Non-GCB DLBCL, Relapse)</text>
<text x="421.20" y="485.60" font-size="10.8" text-anchor="middle" fill="#333" textLength="97.50" lengthAdjust="spacingAndGlyphs" stroke="#333" stroke-width="0.15">Days from randomization</text>
<text transform="translate(296.30,373.80) rotate(-90)" font-size="10.4" text-anchor="middle" fill="#333" textLength="83.5" lengthAdjust="spacingAndGlyphs" stroke="#333" stroke-width="0.15">Tumor volume (mm<tspan font-size="6.5" dy="-3.5">3</tspan><tspan dy="3.5">)</tspan></text>
<text x="268.50" y="265.00" font-size="14.4" fill="#111" font-weight="bold">D</text>
<line x1="335.30" y1="297.70" x2="349.00" y2="297.70" stroke="#14335c" stroke-width="1.3"/>
<path d="M342.30 295.10L345.10 297.70L342.30 300.30L339.50 297.70Z" fill="#1c4273" stroke="#14335c" stroke-width="0.6"/>
<text x="352.80" y="300.30" font-size="8.4" fill="#333" textLength="72.90" lengthAdjust="spacingAndGlyphs">Vehicle control, SD</text>
<line x1="335.30" y1="308.50" x2="349.00" y2="308.50" stroke="#38a8e0" stroke-width="1.3"/>
<rect x="339.70" y="305.90" width="5.20" height="5.20" fill="#38a8e0" stroke="#2b90c8" stroke-width="0.6"/>
<text x="352.80" y="311.10" font-size="8.4" fill="#333" textLength="112.10" lengthAdjust="spacingAndGlyphs">Af.CD19 mAb, 10 mg/kg, SD</text>
<line x1="335.30" y1="319.40" x2="349.00" y2="319.40" stroke="#4b864b" stroke-width="1.3"/>
<rect x="339.70" y="316.80" width="5.20" height="5.20" fill="#30ab3c" stroke="#23902e" stroke-width="0.6"/>
<text x="352.80" y="322.00" font-size="8.4" fill="#333" textLength="97.20" lengthAdjust="spacingAndGlyphs">ABBV-319, 10 mg/kg, SD</text>
<line x1="430.75" y1="445.05" x2="430.75" y2="450.60" stroke="#8aae8a" stroke-width="1.05"/>
<line x1="428.05" y1="445.05" x2="433.45" y2="445.05" stroke="#8aae8a" stroke-width="1.05"/>
<line x1="428.05" y1="450.60" x2="433.45" y2="450.60" stroke="#8aae8a" stroke-width="1.05"/>
<line x1="442.96" y1="438.55" x2="442.96" y2="448.38" stroke="#8aae8a" stroke-width="1.05"/>
<line x1="440.26" y1="438.55" x2="445.66" y2="438.55" stroke="#8aae8a" stroke-width="1.05"/>
<line x1="440.26" y1="448.38" x2="445.66" y2="448.38" stroke="#8aae8a" stroke-width="1.05"/>
<line x1="459.24" y1="432.76" x2="459.24" y2="440.69" stroke="#8aae8a" stroke-width="1.05"/>
<line x1="456.54" y1="432.76" x2="461.94" y2="432.76" stroke="#8aae8a" stroke-width="1.05"/>
<line x1="456.54" y1="440.69" x2="461.94" y2="440.69" stroke="#8aae8a" stroke-width="1.05"/>
<line x1="471.45" y1="402.87" x2="471.45" y2="423.48" stroke="#8aae8a" stroke-width="1.05"/>
<line x1="468.75" y1="402.87" x2="474.15" y2="402.87" stroke="#8aae8a" stroke-width="1.05"/>
<line x1="468.75" y1="423.48" x2="474.15" y2="423.48" stroke="#8aae8a" stroke-width="1.05"/>
<polyline points="329.00,444.89 345.28,452.98 357.49,454.57 373.77,455.20 385.98,455.20 402.26,454.57 414.47,452.59 430.75,447.83 442.96,443.47 459.24,436.73 471.45,413.17" fill="none" stroke="#4b864b" stroke-width="1.05"/>
<rect x="326.30" y="442.19" width="5.40" height="5.40" fill="#30ab3c" stroke="#23902e" stroke-width="0.6"/>
<rect x="342.58" y="450.28" width="5.40" height="5.40" fill="#30ab3c" stroke="#23902e" stroke-width="0.6"/>
<rect x="354.79" y="451.87" width="5.40" height="5.40" fill="#30ab3c" stroke="#23902e" stroke-width="0.6"/>
<rect x="371.07" y="452.50" width="5.40" height="5.40" fill="#30ab3c" stroke="#23902e" stroke-width="0.6"/>
<rect x="383.28" y="452.50" width="5.40" height="5.40" fill="#30ab3c" stroke="#23902e" stroke-width="0.6"/>
<rect x="399.56" y="451.87" width="5.40" height="5.40" fill="#30ab3c" stroke="#23902e" stroke-width="0.6"/>
<rect x="411.77" y="449.89" width="5.40" height="5.40" fill="#30ab3c" stroke="#23902e" stroke-width="0.6"/>
<rect x="428.05" y="445.13" width="5.40" height="5.40" fill="#30ab3c" stroke="#23902e" stroke-width="0.6"/>
<rect x="440.26" y="440.77" width="5.40" height="5.40" fill="#30ab3c" stroke="#23902e" stroke-width="0.6"/>
<rect x="456.54" y="434.03" width="5.40" height="5.40" fill="#30ab3c" stroke="#23902e" stroke-width="0.6"/>
<rect x="468.75" y="410.47" width="5.40" height="5.40" fill="#30ab3c" stroke="#23902e" stroke-width="0.6"/>
<line x1="345.28" y1="441.33" x2="345.28" y2="443.71" stroke="#98bfd6" stroke-width="1.05"/>
<line x1="342.58" y1="441.33" x2="347.98" y2="441.33" stroke="#98bfd6" stroke-width="1.05"/>
<line x1="342.58" y1="443.71" x2="347.98" y2="443.71" stroke="#98bfd6" stroke-width="1.05"/>
<line x1="357.49" y1="436.33" x2="357.49" y2="439.50" stroke="#98bfd6" stroke-width="1.05"/>
<line x1="354.79" y1="436.33" x2="360.19" y2="436.33" stroke="#98bfd6" stroke-width="1.05"/>
<line x1="354.79" y1="439.50" x2="360.19" y2="439.50" stroke="#98bfd6" stroke-width="1.05"/>
<line x1="373.77" y1="421.90" x2="373.77" y2="430.94" stroke="#98bfd6" stroke-width="1.05"/>
<line x1="371.07" y1="421.90" x2="376.47" y2="421.90" stroke="#98bfd6" stroke-width="1.05"/>
<line x1="371.07" y1="430.94" x2="376.47" y2="430.94" stroke="#98bfd6" stroke-width="1.05"/>
<line x1="385.98" y1="412.78" x2="385.98" y2="422.77" stroke="#98bfd6" stroke-width="1.05"/>
<line x1="383.28" y1="412.78" x2="388.68" y2="412.78" stroke="#98bfd6" stroke-width="1.05"/>
<line x1="383.28" y1="422.77" x2="388.68" y2="422.77" stroke="#98bfd6" stroke-width="1.05"/>
<line x1="402.26" y1="403.82" x2="402.26" y2="418.41" stroke="#98bfd6" stroke-width="1.05"/>
<line x1="399.56" y1="403.82" x2="404.96" y2="403.82" stroke="#98bfd6" stroke-width="1.05"/>
<line x1="399.56" y1="418.41" x2="404.96" y2="418.41" stroke="#98bfd6" stroke-width="1.05"/>
<line x1="414.47" y1="381.30" x2="414.47" y2="397.95" stroke="#98bfd6" stroke-width="1.05"/>
<line x1="411.77" y1="381.30" x2="417.17" y2="381.30" stroke="#98bfd6" stroke-width="1.05"/>
<line x1="411.77" y1="397.95" x2="417.17" y2="397.95" stroke="#98bfd6" stroke-width="1.05"/>
<line x1="430.75" y1="355.13" x2="430.75" y2="381.14" stroke="#98bfd6" stroke-width="1.05"/>
<line x1="428.05" y1="355.13" x2="433.45" y2="355.13" stroke="#98bfd6" stroke-width="1.05"/>
<line x1="428.05" y1="381.14" x2="433.45" y2="381.14" stroke="#98bfd6" stroke-width="1.05"/>
<line x1="442.96" y1="331.26" x2="442.96" y2="367.10" stroke="#98bfd6" stroke-width="1.05"/>
<line x1="440.26" y1="331.26" x2="445.66" y2="331.26" stroke="#98bfd6" stroke-width="1.05"/>
<line x1="440.26" y1="367.10" x2="445.66" y2="367.10" stroke="#98bfd6" stroke-width="1.05"/>
<line x1="459.24" y1="329.91" x2="459.24" y2="361.63" stroke="#98bfd6" stroke-width="1.05"/>
<line x1="456.54" y1="329.91" x2="461.94" y2="329.91" stroke="#98bfd6" stroke-width="1.05"/>
<line x1="456.54" y1="361.63" x2="461.94" y2="361.63" stroke="#98bfd6" stroke-width="1.05"/>
<line x1="471.45" y1="314.53" x2="471.45" y2="330.07" stroke="#98bfd6" stroke-width="1.05"/>
<line x1="468.75" y1="314.53" x2="474.15" y2="314.53" stroke="#98bfd6" stroke-width="1.05"/>
<line x1="468.75" y1="330.07" x2="474.15" y2="330.07" stroke="#98bfd6" stroke-width="1.05"/>
<polyline points="329.00,444.89 345.28,442.52 357.49,437.92 373.77,426.42 385.98,417.77 402.26,411.11 414.47,389.62 430.75,368.13 442.96,349.18 459.24,345.77 471.45,322.30" fill="none" stroke="#4a92c0" stroke-width="1.05"/>
<rect x="326.30" y="442.19" width="5.40" height="5.40" fill="#38a8e0" stroke="#2b90c8" stroke-width="0.6"/>
<rect x="342.58" y="439.82" width="5.40" height="5.40" fill="#38a8e0" stroke="#2b90c8" stroke-width="0.6"/>
<rect x="354.79" y="435.22" width="5.40" height="5.40" fill="#38a8e0" stroke="#2b90c8" stroke-width="0.6"/>
<rect x="371.07" y="423.72" width="5.40" height="5.40" fill="#38a8e0" stroke="#2b90c8" stroke-width="0.6"/>
<rect x="383.28" y="415.07" width="5.40" height="5.40" fill="#38a8e0" stroke="#2b90c8" stroke-width="0.6"/>
<rect x="399.56" y="408.41" width="5.40" height="5.40" fill="#38a8e0" stroke="#2b90c8" stroke-width="0.6"/>
<rect x="411.77" y="386.92" width="5.40" height="5.40" fill="#38a8e0" stroke="#2b90c8" stroke-width="0.6"/>
<rect x="428.05" y="365.43" width="5.40" height="5.40" fill="#38a8e0" stroke="#2b90c8" stroke-width="0.6"/>
<rect x="440.26" y="346.48" width="5.40" height="5.40" fill="#38a8e0" stroke="#2b90c8" stroke-width="0.6"/>
<rect x="456.54" y="343.07" width="5.40" height="5.40" fill="#38a8e0" stroke="#2b90c8" stroke-width="0.6"/>
<rect x="468.75" y="319.60" width="5.40" height="5.40" fill="#38a8e0" stroke="#2b90c8" stroke-width="0.6"/>
<line x1="345.28" y1="439.34" x2="345.28" y2="442.52" stroke="#44597a" stroke-width="1.05"/>
<line x1="342.58" y1="439.34" x2="347.98" y2="439.34" stroke="#44597a" stroke-width="1.05"/>
<line x1="342.58" y1="442.52" x2="347.98" y2="442.52" stroke="#44597a" stroke-width="1.05"/>
<line x1="357.49" y1="433.87" x2="357.49" y2="439.11" stroke="#44597a" stroke-width="1.05"/>
<line x1="354.79" y1="433.87" x2="360.19" y2="433.87" stroke="#44597a" stroke-width="1.05"/>
<line x1="354.79" y1="439.11" x2="360.19" y2="439.11" stroke="#44597a" stroke-width="1.05"/>
<line x1="373.77" y1="413.41" x2="373.77" y2="427.05" stroke="#44597a" stroke-width="1.05"/>
<line x1="371.07" y1="413.41" x2="376.47" y2="413.41" stroke="#44597a" stroke-width="1.05"/>
<line x1="371.07" y1="427.05" x2="376.47" y2="427.05" stroke="#44597a" stroke-width="1.05"/>
<line x1="385.98" y1="408.34" x2="385.98" y2="420.39" stroke="#44597a" stroke-width="1.05"/>
<line x1="383.28" y1="408.34" x2="388.68" y2="408.34" stroke="#44597a" stroke-width="1.05"/>
<line x1="383.28" y1="420.39" x2="388.68" y2="420.39" stroke="#44597a" stroke-width="1.05"/>
<line x1="402.26" y1="396.12" x2="402.26" y2="410.08" stroke="#44597a" stroke-width="1.05"/>
<line x1="399.56" y1="396.12" x2="404.96" y2="396.12" stroke="#44597a" stroke-width="1.05"/>
<line x1="399.56" y1="410.08" x2="404.96" y2="410.08" stroke="#44597a" stroke-width="1.05"/>
<line x1="414.47" y1="371.30" x2="414.47" y2="391.60" stroke="#44597a" stroke-width="1.05"/>
<line x1="411.77" y1="371.30" x2="417.17" y2="371.30" stroke="#44597a" stroke-width="1.05"/>
<line x1="411.77" y1="391.60" x2="417.17" y2="391.60" stroke="#44597a" stroke-width="1.05"/>
<line x1="430.75" y1="336.73" x2="430.75" y2="366.07" stroke="#44597a" stroke-width="1.05"/>
<line x1="428.05" y1="336.73" x2="433.45" y2="336.73" stroke="#44597a" stroke-width="1.05"/>
<line x1="428.05" y1="366.07" x2="433.45" y2="366.07" stroke="#44597a" stroke-width="1.05"/>
<line x1="442.96" y1="335.06" x2="442.96" y2="356.48" stroke="#44597a" stroke-width="1.05"/>
<line x1="440.26" y1="335.06" x2="445.66" y2="335.06" stroke="#44597a" stroke-width="1.05"/>
<line x1="440.26" y1="356.48" x2="445.66" y2="356.48" stroke="#44597a" stroke-width="1.05"/>
<polyline points="329.00,444.89 345.28,440.93 357.49,436.49 373.77,420.23 385.98,414.36 402.26,403.10 414.47,381.45 430.75,351.40 442.96,345.77" fill="none" stroke="#14335c" stroke-width="1.05"/>
<path d="M329.00 441.99L331.80 444.89L329.00 447.79L326.20 444.89Z" fill="#1c4273" stroke="#14335c" stroke-width="0.6"/>
<path d="M345.28 438.03L348.08 440.93L345.28 443.83L342.48 440.93Z" fill="#1c4273" stroke="#14335c" stroke-width="0.6"/>
<path d="M357.49 433.59L360.29 436.49L357.49 439.39L354.69 436.49Z" fill="#1c4273" stroke="#14335c" stroke-width="0.6"/>
<path d="M373.77 417.33L376.57 420.23L373.77 423.13L370.97 420.23Z" fill="#1c4273" stroke="#14335c" stroke-width="0.6"/>
<path d="M385.98 411.46L388.78 414.36L385.98 417.26L383.18 414.36Z" fill="#1c4273" stroke="#14335c" stroke-width="0.6"/>
<path d="M402.26 400.20L405.06 403.10L402.26 406.00L399.46 403.10Z" fill="#1c4273" stroke="#14335c" stroke-width="0.6"/>
<path d="M414.47 378.55L417.27 381.45L414.47 384.35L411.67 381.45Z" fill="#1c4273" stroke="#14335c" stroke-width="0.6"/>
<path d="M430.75 348.50L433.55 351.40L430.75 354.30L427.95 351.40Z" fill="#1c4273" stroke="#14335c" stroke-width="0.6"/>
<path d="M442.96 342.87L445.76 345.77L442.96 348.67L440.16 345.77Z" fill="#1c4273" stroke="#14335c" stroke-width="0.6"/>
<text x="7.90" y="510.20" font-size="13.6" fill="#111" font-weight="bold">E</text>
<text x="143.20" y="519.00" font-size="11.4" text-anchor="middle" fill="#333" textLength="139.00" lengthAdjust="spacingAndGlyphs">Tumor Growth Inhibition (%)</text>
<text x="142.80" y="530.00" font-size="9.6" text-anchor="middle" fill="#333" textLength="172.40" lengthAdjust="spacingAndGlyphs">(max difference between control/treated)</text>
<text x="149.40" y="546.50" font-size="9.8" text-anchor="middle" fill="#3fa6d6" textLength="65.80" lengthAdjust="spacingAndGlyphs">PDX Regression</text>
<path d="M74.8 554.6 V550.6 H223.6 V554.6" fill="none" stroke="#2a2a2a" stroke-width="1.2"/>
<line x1="58.20" y1="548.60" x2="58.20" y2="662.70" stroke="#2a2a2a" stroke-width="1.3"/>
<line x1="57.60" y1="662.10" x2="226.80" y2="662.10" stroke="#2a2a2a" stroke-width="1.3"/>
<line x1="54.20" y1="662.10" x2="58.20" y2="662.10" stroke="#2a2a2a" stroke-width="1.1"/>
<text x="51.40" y="665.30" font-size="10.0" text-anchor="end" fill="#333" textLength="5.00" lengthAdjust="spacingAndGlyphs">0</text>
<line x1="54.20" y1="645.97" x2="58.20" y2="645.97" stroke="#2a2a2a" stroke-width="1.1"/>
<text x="51.40" y="649.17" font-size="10.0" text-anchor="end" fill="#333" textLength="10.00" lengthAdjust="spacingAndGlyphs">20</text>
<line x1="54.20" y1="629.84" x2="58.20" y2="629.84" stroke="#2a2a2a" stroke-width="1.1"/>
<text x="51.40" y="633.04" font-size="10.0" text-anchor="end" fill="#333" textLength="10.00" lengthAdjust="spacingAndGlyphs">40</text>
<line x1="54.20" y1="613.72" x2="58.20" y2="613.72" stroke="#2a2a2a" stroke-width="1.1"/>
<text x="51.40" y="616.92" font-size="10.0" text-anchor="end" fill="#333" textLength="10.00" lengthAdjust="spacingAndGlyphs">60</text>
<line x1="54.20" y1="597.59" x2="58.20" y2="597.59" stroke="#2a2a2a" stroke-width="1.1"/>
<text x="51.40" y="600.79" font-size="10.0" text-anchor="end" fill="#333" textLength="10.00" lengthAdjust="spacingAndGlyphs">80</text>
<line x1="54.20" y1="581.46" x2="58.20" y2="581.46" stroke="#2a2a2a" stroke-width="1.1"/>
<text x="51.40" y="584.66" font-size="10.0" text-anchor="end" fill="#333" textLength="15.00" lengthAdjust="spacingAndGlyphs">100</text>
<line x1="54.20" y1="565.33" x2="58.20" y2="565.33" stroke="#2a2a2a" stroke-width="1.1"/>
<text x="51.40" y="568.53" font-size="10.0" text-anchor="end" fill="#333" textLength="15.00" lengthAdjust="spacingAndGlyphs">120</text>
<line x1="54.20" y1="549.20" x2="58.20" y2="549.20" stroke="#2a2a2a" stroke-width="1.1"/>
<text x="51.40" y="552.40" font-size="10.0" text-anchor="end" fill="#333" textLength="15.00" lengthAdjust="spacingAndGlyphs">140</text>
<rect x="64.65" y="602.45" width="9.30" height="59.65" fill="#a884a9" stroke="#97789a" stroke-width="0.7"/>
<line x1="69.30" y1="662.10" x2="69.30" y2="665.90" stroke="#2a2a2a" stroke-width="1.1"/>
<rect x="80.96" y="576.57" width="9.30" height="85.53" fill="#a884a9" stroke="#97789a" stroke-width="0.7"/>
<line x1="85.61" y1="662.10" x2="85.61" y2="665.90" stroke="#2a2a2a" stroke-width="1.1"/>
<rect x="97.27" y="574.96" width="9.30" height="87.14" fill="#5c2066" stroke="#4a1853" stroke-width="0.7"/>
<line x1="101.92" y1="662.10" x2="101.92" y2="665.90" stroke="#2a2a2a" stroke-width="1.1"/>
<rect x="113.58" y="573.42" width="9.30" height="88.68" fill="#a884a9" stroke="#97789a" stroke-width="0.7"/>
<line x1="118.23" y1="662.10" x2="118.23" y2="665.90" stroke="#2a2a2a" stroke-width="1.1"/>
<rect x="129.89" y="572.62" width="9.30" height="89.48" fill="#a884a9" stroke="#97789a" stroke-width="0.7"/>
<line x1="134.54" y1="662.10" x2="134.54" y2="665.90" stroke="#2a2a2a" stroke-width="1.1"/>
<rect x="146.20" y="571.17" width="9.30" height="90.93" fill="#5c2066" stroke="#4a1853" stroke-width="0.7"/>
<line x1="150.85" y1="662.10" x2="150.85" y2="665.90" stroke="#2a2a2a" stroke-width="1.1"/>
<rect x="162.51" y="569.55" width="9.30" height="92.55" fill="#a884a9" stroke="#97789a" stroke-width="0.7"/>
<line x1="167.16" y1="662.10" x2="167.16" y2="665.90" stroke="#2a2a2a" stroke-width="1.1"/>
<rect x="178.82" y="568.26" width="9.30" height="93.84" fill="#5c2066" stroke="#4a1853" stroke-width="0.7"/>
<line x1="183.47" y1="662.10" x2="183.47" y2="665.90" stroke="#2a2a2a" stroke-width="1.1"/>
<rect x="195.13" y="562.05" width="9.30" height="100.05" fill="#5c2066" stroke="#4a1853" stroke-width="0.7"/>
<line x1="199.78" y1="662.10" x2="199.78" y2="665.90" stroke="#2a2a2a" stroke-width="1.1"/>
<rect x="211.44" y="557.05" width="9.30" height="105.05" fill="#a884a9" stroke="#97789a" stroke-width="0.7"/>
<line x1="216.09" y1="662.10" x2="216.09" y2="665.90" stroke="#2a2a2a" stroke-width="1.1"/>
<text transform="translate(72.80,673.10) rotate(-45)" font-size="9.8" text-anchor="end" fill="#333"><tspan textLength="20" lengthAdjust="spacingAndGlyphs">0232</tspan><tspan dx="4.5" font-size="9.4">*</tspan></text>
<text transform="translate(89.11,673.10) rotate(-45)" font-size="9.8" text-anchor="end" fill="#333"><tspan textLength="20" lengthAdjust="spacingAndGlyphs">0207</tspan><tspan dx="4.5" font-size="9.4">*</tspan></text>
<text transform="translate(105.02,674.40) rotate(-45)" font-size="9.8" text-anchor="end" fill="#333" textLength="20" lengthAdjust="spacingAndGlyphs">0337</text>
<text transform="translate(121.33,674.40) rotate(-45)" font-size="9.8" text-anchor="end" fill="#333" textLength="20" lengthAdjust="spacingAndGlyphs">0395</text>
<text transform="translate(137.64,674.40) rotate(-45)" font-size="9.8" text-anchor="end" fill="#333" textLength="20" lengthAdjust="spacingAndGlyphs">0398</text>
<text transform="translate(154.35,673.10) rotate(-45)" font-size="9.8" text-anchor="end" fill="#333"><tspan textLength="20" lengthAdjust="spacingAndGlyphs">0367</tspan><tspan dx="4.5" font-size="9.4">*</tspan></text>
<text transform="translate(170.26,674.40) rotate(-45)" font-size="9.8" text-anchor="end" fill="#333" textLength="20" lengthAdjust="spacingAndGlyphs">0301</text>
<text transform="translate(186.57,674.40) rotate(-45)" font-size="9.8" text-anchor="end" fill="#333" textLength="20" lengthAdjust="spacingAndGlyphs">0262</text>
<text transform="translate(203.28,673.10) rotate(-45)" font-size="9.8" text-anchor="end" fill="#333"><tspan textLength="20" lengthAdjust="spacingAndGlyphs">0016</tspan><tspan dx="4.5" font-size="9.4">*</tspan></text>
<text transform="translate(219.19,674.40) rotate(-45)" font-size="9.8" text-anchor="end" fill="#333" textLength="20" lengthAdjust="spacingAndGlyphs">0303</text>
<text transform="translate(30.8,604.4) rotate(-90)" font-size="10.4" text-anchor="middle" fill="#333" textLength="55.5" lengthAdjust="spacingAndGlyphs" stroke="#333" stroke-width="0.15">&#916; TGI-max (%)</text>
<text x="142.80" y="706.90" font-size="10.6" text-anchor="middle" fill="#333" textLength="69.00" lengthAdjust="spacingAndGlyphs" stroke="#333" stroke-width="0.15">DLBCL PDX model</text>
<rect x="96.30" y="716.40" width="10.00" height="6.20" fill="#a884a9" stroke="#97789a" stroke-width="0.6"/>
<text x="109.60" y="722.80" font-size="9.4" fill="#333" textLength="20.50" lengthAdjust="spacingAndGlyphs">GCB</text>
<rect x="135.10" y="716.40" width="10.00" height="6.20" fill="#5c2066" stroke="#4a1853" stroke-width="0.6"/>
<text x="148.50" y="722.80" font-size="9.4" fill="#333" textLength="37.30" lengthAdjust="spacingAndGlyphs">Non-GCB</text>
<text x="97.30" y="734.70" font-size="9.0" fill="#333" textLength="91.50" lengthAdjust="spacingAndGlyphs">* Relapse after R-CHOP</text>
<text x="268.90" y="510.40" font-size="13.6" fill="#111" font-weight="bold">F</text>
<text x="407.60" y="514.20" font-size="11.2" text-anchor="middle" fill="#333" textLength="131.50" lengthAdjust="spacingAndGlyphs">Tumor Volume Change (%)</text>
<text x="341.6" y="525.3" font-size="9.6" fill="#333" textLength="131" lengthAdjust="spacingAndGlyphs">(<tspan fill="#3fa6d6">when control at 1000 mm<tspan font-size="7.6" dy="-3.6">3</tspan></tspan><tspan dy="3.6"> and</tspan></text>
<text x="406.90" y="535.90" font-size="9.6" text-anchor="middle" fill="#333" textLength="138.50" lengthAdjust="spacingAndGlyphs">relative to starting tumor volume)</text>
<line x1="322.90" y1="542.00" x2="322.90" y2="599.40" stroke="#2a2a2a" stroke-width="1.3"/>
<line x1="318.90" y1="598.80" x2="322.90" y2="598.80" stroke="#2a2a2a" stroke-width="1.1"/>
<text x="315.60" y="602.00" font-size="10.0" text-anchor="end" fill="#333" textLength="5.00" lengthAdjust="spacingAndGlyphs">0</text>
<line x1="318.90" y1="571.40" x2="322.90" y2="571.40" stroke="#2a2a2a" stroke-width="1.1"/>
<text x="315.60" y="574.60" font-size="10.0" text-anchor="end" fill="#333" textLength="15.00" lengthAdjust="spacingAndGlyphs">100</text>
<line x1="318.90" y1="544.00" x2="322.90" y2="544.00" stroke="#2a2a2a" stroke-width="1.1"/>
<text x="315.60" y="547.20" font-size="10.0" text-anchor="end" fill="#333" textLength="15.00" lengthAdjust="spacingAndGlyphs">200</text>
<line x1="322.90" y1="604.60" x2="322.90" y2="662.65" stroke="#2a2a2a" stroke-width="1.3"/>
<line x1="322.30" y1="605.20" x2="492.20" y2="605.20" stroke="#2a2a2a" stroke-width="1.3"/>
<line x1="322.30" y1="662.05" x2="492.20" y2="662.05" stroke="#2a2a2a" stroke-width="1.3"/>
<line x1="318.90" y1="605.20" x2="322.90" y2="605.20" stroke="#2a2a2a" stroke-width="1.1"/>
<text x="315.60" y="608.40" font-size="10.0" text-anchor="end" fill="#333" textLength="5.00" lengthAdjust="spacingAndGlyphs">0</text>
<line x1="318.90" y1="633.62" x2="322.90" y2="633.62" stroke="#2a2a2a" stroke-width="1.1"/>
<text x="315.60" y="636.83" font-size="10.0" text-anchor="end" fill="#333" textLength="14.20" lengthAdjust="spacingAndGlyphs">&#8211;50</text>
<line x1="318.90" y1="662.05" x2="322.90" y2="662.05" stroke="#2a2a2a" stroke-width="1.1"/>
<text x="315.60" y="665.25" font-size="10.0" text-anchor="end" fill="#333" textLength="19.20" lengthAdjust="spacingAndGlyphs">&#8211;100</text>
<rect x="329.55" y="545.72" width="9.30" height="53.08" fill="#a884a9" stroke="#97789a" stroke-width="0.7"/>
<line x1="334.20" y1="662.05" x2="334.20" y2="665.85" stroke="#2a2a2a" stroke-width="1.1"/>
<rect x="345.88" y="586.66" width="9.30" height="12.14" fill="#a884a9" stroke="#97789a" stroke-width="0.7"/>
<line x1="350.53" y1="662.05" x2="350.53" y2="665.85" stroke="#2a2a2a" stroke-width="1.1"/>
<rect x="362.21" y="597.78" width="9.30" height="1.02" fill="#5c2066" stroke="#4a1853" stroke-width="0.7"/>
<line x1="366.86" y1="662.05" x2="366.86" y2="665.85" stroke="#2a2a2a" stroke-width="1.1"/>
<rect x="378.54" y="605.20" width="9.30" height="27.28" fill="#5c2066" stroke="#4a1853" stroke-width="0.7"/>
<line x1="383.19" y1="662.05" x2="383.19" y2="665.85" stroke="#2a2a2a" stroke-width="1.1"/>
<rect x="394.87" y="605.20" width="9.30" height="31.20" fill="#5c2066" stroke="#4a1853" stroke-width="0.7"/>
<line x1="399.52" y1="662.05" x2="399.52" y2="665.85" stroke="#2a2a2a" stroke-width="1.1"/>
<rect x="411.20" y="605.20" width="9.30" height="42.63" fill="#a884a9" stroke="#97789a" stroke-width="0.7"/>
<line x1="415.85" y1="662.05" x2="415.85" y2="665.85" stroke="#2a2a2a" stroke-width="1.1"/>
<rect x="427.53" y="605.20" width="9.30" height="51.38" fill="#a884a9" stroke="#97789a" stroke-width="0.7"/>
<line x1="432.18" y1="662.05" x2="432.18" y2="665.85" stroke="#2a2a2a" stroke-width="1.1"/>
<rect x="443.86" y="605.20" width="9.30" height="52.80" fill="#5c2066" stroke="#4a1853" stroke-width="0.7"/>
<line x1="448.51" y1="662.05" x2="448.51" y2="665.85" stroke="#2a2a2a" stroke-width="1.1"/>
<rect x="460.19" y="605.20" width="9.30" height="56.22" fill="#a884a9" stroke="#97789a" stroke-width="0.7"/>
<line x1="464.84" y1="662.05" x2="464.84" y2="665.85" stroke="#2a2a2a" stroke-width="1.1"/>
<rect x="476.52" y="605.20" width="9.30" height="56.50" fill="#a884a9" stroke="#97789a" stroke-width="0.7"/>
<line x1="481.17" y1="662.05" x2="481.17" y2="665.85" stroke="#2a2a2a" stroke-width="1.1"/>
<text transform="translate(337.70,673.05) rotate(-45)" font-size="9.8" text-anchor="end" fill="#333"><tspan textLength="20" lengthAdjust="spacingAndGlyphs">0232</tspan><tspan dx="4.5" font-size="9.4">*</tspan></text>
<text transform="translate(353.63,674.35) rotate(-45)" font-size="9.8" text-anchor="end" fill="#333" textLength="20" lengthAdjust="spacingAndGlyphs">0303</text>
<text transform="translate(370.36,673.05) rotate(-45)" font-size="9.8" text-anchor="end" fill="#333"><tspan textLength="20" lengthAdjust="spacingAndGlyphs">0367</tspan><tspan dx="4.5" font-size="9.4">*</tspan></text>
<text transform="translate(386.29,674.35) rotate(-45)" font-size="9.8" text-anchor="end" fill="#333" textLength="20" lengthAdjust="spacingAndGlyphs">0337</text>
<text transform="translate(403.02,673.05) rotate(-45)" font-size="9.8" text-anchor="end" fill="#333"><tspan textLength="20" lengthAdjust="spacingAndGlyphs">0016</tspan><tspan dx="4.5" font-size="9.4">*</tspan></text>
<text transform="translate(419.35,673.05) rotate(-45)" font-size="9.8" text-anchor="end" fill="#333"><tspan textLength="20" lengthAdjust="spacingAndGlyphs">0207</tspan><tspan dx="4.5" font-size="9.4">*</tspan></text>
<text transform="translate(435.28,674.35) rotate(-45)" font-size="9.8" text-anchor="end" fill="#333" textLength="20" lengthAdjust="spacingAndGlyphs">0398</text>
<text transform="translate(451.61,674.35) rotate(-45)" font-size="9.8" text-anchor="end" fill="#333" textLength="20" lengthAdjust="spacingAndGlyphs">0262</text>
<text transform="translate(467.94,674.35) rotate(-45)" font-size="9.8" text-anchor="end" fill="#333" textLength="20" lengthAdjust="spacingAndGlyphs">0301</text>
<text transform="translate(484.27,674.35) rotate(-45)" font-size="9.8" text-anchor="end" fill="#333" textLength="20" lengthAdjust="spacingAndGlyphs">0395</text>
<text transform="translate(290.3,601.9) rotate(-90)" font-size="10.4" text-anchor="middle" fill="#333" textLength="106" lengthAdjust="spacingAndGlyphs" stroke="#333" stroke-width="0.15">Tumor volume change (%)</text>
<text x="407.80" y="706.90" font-size="10.6" text-anchor="middle" fill="#333" textLength="68.50" lengthAdjust="spacingAndGlyphs" stroke="#333" stroke-width="0.15">DLBCL PDX model</text>
<rect x="361.20" y="716.40" width="10.00" height="6.20" fill="#a884a9" stroke="#97789a" stroke-width="0.6"/>
<text x="374.60" y="722.80" font-size="9.4" fill="#333" textLength="20.50" lengthAdjust="spacingAndGlyphs">GCB</text>
<rect x="400.00" y="716.40" width="10.00" height="6.20" fill="#5c2066" stroke="#4a1853" stroke-width="0.6"/>
<text x="413.50" y="722.80" font-size="9.4" fill="#333" textLength="37.30" lengthAdjust="spacingAndGlyphs">Non-GCB</text>
<text x="362.60" y="734.70" font-size="9.0" fill="#333" textLength="90.50" lengthAdjust="spacingAndGlyphs">* Relapse after R-CHOP</text>
<rect x="0.5" y="0.5" width="519" height="744" fill="none" stroke="#4a4a4a" stroke-width="1"/>
</svg></body></html>
